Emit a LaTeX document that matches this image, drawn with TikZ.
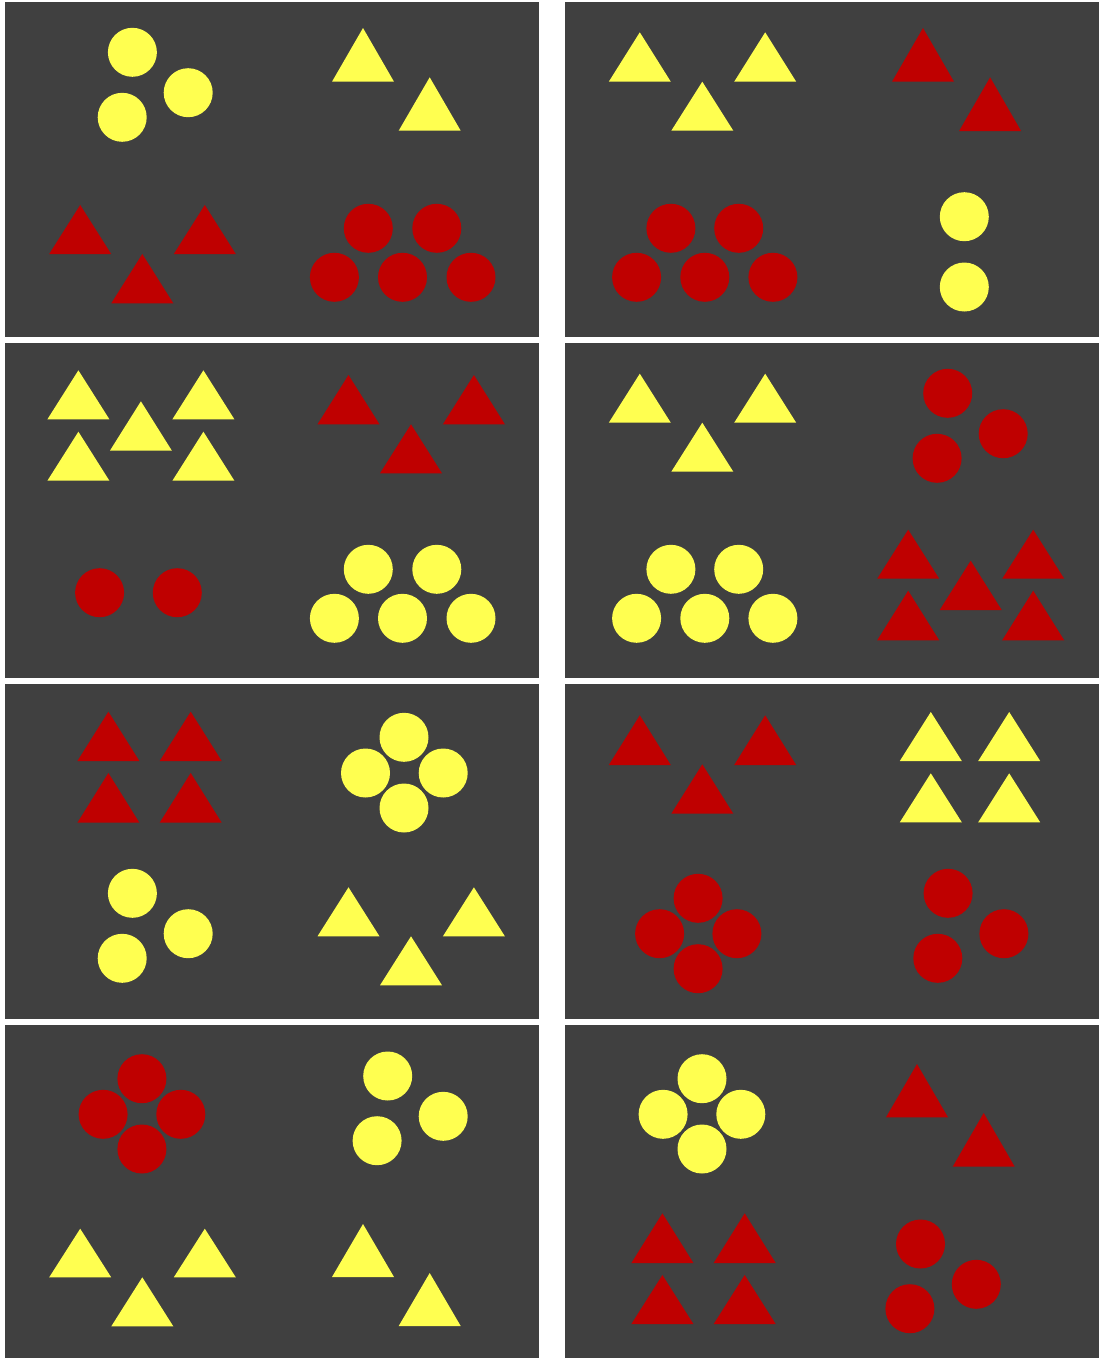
\documentclass[tikz,border=0pt]{standalone}
\usepackage{tikz}
\definecolor{panelgray}{HTML}{404040}
\definecolor{ylw}{HTML}{FFFF50}
\definecolor{rd}{HTML}{BF0000}
\tikzset{
  panelbox/.style={fill=panelgray},
}
% circle: colour, x, y
\newcommand\disc[3]{\fill[#1] (#2,#3) circle[radius=24.5pt];}
% triangle: colour, apex x, apex y, base y
\newcommand\trg[4]{\fill[#1] ({#2-31},#4) -- (#2,#3) -- ({#2+31},#4) -- cycle;}
\begin{document}
\begin{tikzpicture}[x=1pt,y=-1pt]
\useasboundingbox (0,0) rectangle (1108,1358);
\fill[white] (0,0) rectangle (1108,1358);
% panels
\foreach \yy in {2,343,684,1025}{
  \fill[panelbox] (5,\yy) rectangle (539,{\yy+335});
  \fill[panelbox] (565,\yy) rectangle (1099,{\yy+335});
}
% ---------- Panel 1 ----------
\disc{ylw}{132.4}{52.3}\disc{ylw}{188.2}{92.7}\disc{ylw}{122.2}{117.3}
\trg{ylw}{363.0}{28}{81.7}\trg{ylw}{429.7}{77.3}{130.7}
\trg{rd}{80.2}{205}{254}\trg{rd}{204.8}{205}{254}\trg{rd}{142.3}{254}{303.3}
\disc{rd}{368.3}{228.3}\disc{rd}{436.8}{228.3}
\disc{rd}{334.4}{277.3}\disc{rd}{402.5}{277.3}\disc{rd}{471.0}{277.3}
% ---------- Panel 2 ----------
\trg{ylw}{639.8}{32.3}{81.7}\trg{ylw}{765.2}{32.3}{81.7}\trg{ylw}{702.3}{81.7}{130.7}
\trg{rd}{923}{28}{81.7}\trg{rd}{990.1}{77.3}{131}
\disc{rd}{670.9}{228.3}\disc{rd}{738.7}{228.3}
\disc{rd}{636.6}{277.3}\disc{rd}{704.8}{277.3}\disc{rd}{772.9}{277.3}
\disc{ylw}{964.3}{216.7}\disc{ylw}{964.3}{287}
% ---------- Panel 3 ----------
\trg{ylw}{78.4}{370.3}{419.3}\trg{ylw}{203.4}{370.3}{419.3}
\trg{ylw}{140.9}{401.3}{450.7}
\trg{ylw}{78.4}{431.7}{480.7}\trg{ylw}{203.4}{431.7}{480.7}
\trg{rd}{348.5}{375}{424.3}\trg{rd}{473.9}{375}{424.3}\trg{rd}{411.0}{424.3}{473.3}
\disc{rd}{99.6}{592.7}\disc{rd}{177.3}{592.7}
\disc{ylw}{368.3}{569.3}\disc{ylw}{436.8}{569.3}
\disc{ylw}{334.4}{618.3}\disc{ylw}{402.5}{618.3}\disc{ylw}{471.0}{618.3}
% ---------- Panel 4 ----------
\trg{ylw}{639.8}{373.7}{422.7}\trg{ylw}{765.2}{373.7}{422.7}\trg{ylw}{702.3}{422.7}{471.7}
\disc{rd}{947.7}{393.3}\disc{rd}{1003.2}{433.7}\disc{rd}{937.1}{458.3}
\disc{ylw}{670.9}{569.3}\disc{ylw}{738.7}{569.3}
\disc{ylw}{636.6}{618.3}\disc{ylw}{704.8}{618.3}\disc{ylw}{772.9}{618.3}
\trg{rd}{908.2}{529.7}{578.7}\trg{rd}{1033.2}{529.7}{578.7}
\trg{rd}{970.7}{560.7}{610}
\trg{rd}{908.2}{590.7}{640.3}\trg{rd}{1033.2}{590.7}{640.3}
% ---------- Panel 5 ----------
\trg{rd}{108.4}{711.7}{761}\trg{rd}{190.7}{711.7}{761}
\trg{rd}{108.4}{773}{822.7}\trg{rd}{190.7}{773}{822.7}
\disc{ylw}{404.0}{737.3}\disc{ylw}{365.5}{773}\disc{ylw}{443.2}{773}\disc{ylw}{404.0}{808}
\disc{ylw}{132.4}{893.3}\disc{ylw}{188.2}{933.7}\disc{ylw}{122.2}{958.3}
\trg{ylw}{348.5}{887.3}{936.3}\trg{ylw}{473.9}{887.3}{936.3}\trg{ylw}{411.0}{936.3}{985.3}
% ---------- Panel 6 ----------
\trg{rd}{639.8}{715.3}{765}\trg{rd}{765.2}{715.3}{765}\trg{rd}{702.3}{764.3}{813.7}
\trg{ylw}{930.8}{712}{761}\trg{ylw}{1009.2}{712}{761}
\trg{ylw}{930.8}{773.3}{822.3}\trg{ylw}{1009.2}{773.3}{822.3}
\disc{rd}{698.1}{898.3}\disc{rd}{659.6}{933.7}\disc{rd}{736.9}{933.7}\disc{rd}{698.1}{968.7}
\disc{rd}{948.1}{893.3}\disc{rd}{1003.9}{933.7}\disc{rd}{937.8}{958.3}
% ---------- Panel 7 ----------
\disc{rd}{141.9}{1078.7}\disc{rd}{103.1}{1114.3}\disc{rd}{180.8}{1114.3}\disc{rd}{141.9}{1149}
\disc{ylw}{387.7}{1076}\disc{ylw}{443.2}{1116.3}\disc{ylw}{377.1}{1140.7}
\trg{ylw}{80.2}{1228.7}{1277.3}\trg{ylw}{204.8}{1228.7}{1277.3}\trg{ylw}{142.3}{1277.3}{1326.3}
\trg{ylw}{363.0}{1224}{1277}\trg{ylw}{429.7}{1273}{1326}
% ---------- Panel 8 ----------
\disc{ylw}{702}{1078.7}\disc{ylw}{663.1}{1114.3}\disc{ylw}{740.8}{1114.3}\disc{ylw}{702}{1149}
\trg{rd}{917}{1064}{1117.3}\trg{rd}{983.7}{1113}{1166.7}
\trg{rd}{662.4}{1213.3}{1263}\trg{rd}{744.7}{1213.3}{1263}
\trg{rd}{662.4}{1275}{1324}\trg{rd}{744.7}{1275}{1324}
\disc{rd}{920.5}{1244}\disc{rd}{976.3}{1284.3}\disc{rd}{909.9}{1308.7}
\end{tikzpicture}
\end{document}
